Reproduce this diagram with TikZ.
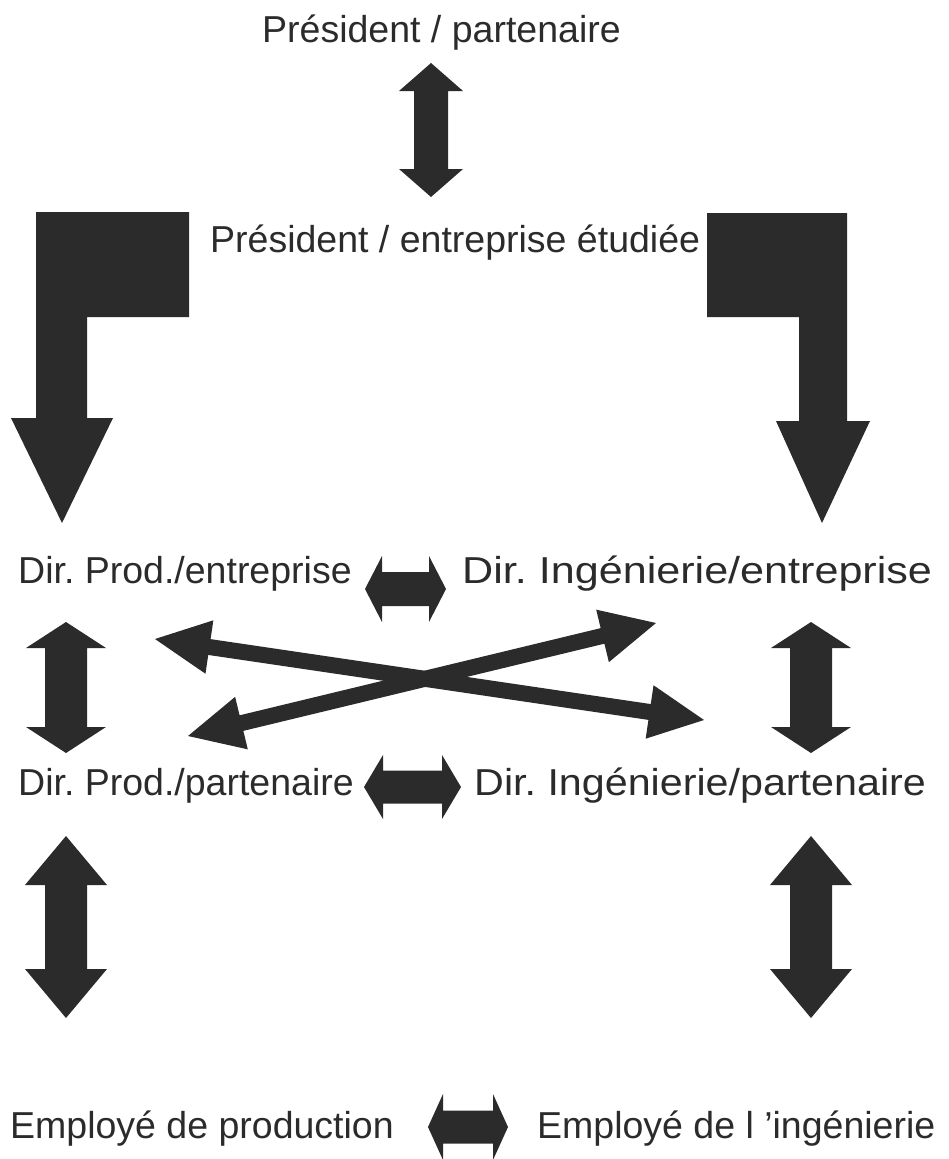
\documentclass[tikz,border=0pt]{standalone}
\usepackage{fontspec}
\setmainfont{Liberation Sans}
\usetikzlibrary{calc}
\definecolor{arrgray}{RGB}{43,43,43}

% block double arrow: tip, tip, head length, head half width, shaft half width
\newcommand{\dblarr}[5]{%
  \coordinate (ha) at ($#1!#3!#2$);
  \coordinate (hb) at ($#2!#3!#1$);
  \fill[arrgray] #1 -- ($(ha)!#4!90:#2$) -- ($(ha)!#5!90:#2$) -- ($(hb)!#5!-90:#1$)
    -- ($(hb)!#4!-90:#1$) -- #2 -- ($(hb)!#4!90:#1$) -- ($(hb)!#5!90:#1$)
    -- ($(ha)!#5!-90:#2$) -- ($(ha)!#4!-90:#2$) -- cycle;}

\begin{document}
\frenchspacing
\begin{tikzpicture}[x=1pt,y=-1pt,
  lbl/.style={anchor=base west,inner sep=0pt,text=arrgray,font=\fontsize{37.5}{40}\selectfont},
  widelbl/.style={lbl,xscale=#1,transform shape}]
  \useasboundingbox (0,0) rectangle (949,1159);

  \node[lbl] (pp) at (262,42) {Président / partenaire};
  \node[lbl] (pe) at (210,252) {Président / entreprise étudiée};
  \node[lbl] (dpe) at (18,583) {Dir. Prod./entreprise};
  \node[widelbl=1.15] (die) at (462,583) {Dir. Ingénierie/entreprise};
  \node[lbl] (dpp) at (18,795) {Dir. Prod./partenaire};
  \node[widelbl=1.10] (dip) at (474,795) {Dir. Ingénierie/partenaire};
  \node[lbl] (ep) at (10,1138) {Employé de production};
  \node[lbl] (ei) at (537,1138) {Employé de l 'ingénierie};

  % president links
  \coordinate (p1) at (431,63);  \coordinate (p2) at (431,197);
  \dblarr{(p1)}{(p2)}{28pt}{32pt}{17pt}
  \fill[arrgray] (36,212) -- (189,212) -- (189,317) -- (87,317) -- (87,418) -- (113,418)
    -- (62,523) -- (11,418) -- (36,418) -- cycle;
  \fill[arrgray] (707,213) -- (847,213) -- (847,421) -- (870,421) -- (822,523) -- (776,421)
    -- (799,421) -- (799,317) -- (707,317) -- cycle;

  % horizontal links
  \coordinate (h1a) at (365,589); \coordinate (h1b) at (446,589);
  \dblarr{(h1a)}{(h1b)}{17pt}{33pt}{17pt}
  \coordinate (h2a) at (364,787); \coordinate (h2b) at (461,787);
  \dblarr{(h2a)}{(h2b)}{19pt}{32pt}{16.5pt}
  \coordinate (h3a) at (428,1127); \coordinate (h3b) at (508,1127);
  \dblarr{(h3a)}{(h3b)}{15pt}{33pt}{16.5pt}

  % vertical links
  \coordinate (v1a) at (66,622);  \coordinate (v1b) at (66,753);
  \dblarr{(v1a)}{(v1b)}{26pt}{40pt}{21pt}
  \coordinate (v2a) at (811,622); \coordinate (v2b) at (811,753);
  \dblarr{(v2a)}{(v2b)}{26pt}{40pt}{21pt}
  \coordinate (v3a) at (66,836);  \coordinate (v3b) at (66,1018);
  \dblarr{(v3a)}{(v3b)}{49pt}{41pt}{21pt}
  \coordinate (v4a) at (811,836); \coordinate (v4b) at (811,1018);
  \dblarr{(v4a)}{(v4b)}{49pt}{41pt}{21pt}

  % crossing links
  \coordinate (xa) at (155,639); \coordinate (xb) at (704,720);
  \dblarr{(xa)}{(xb)}{55pt}{27pt}{8pt}
  \coordinate (ya) at (188,736); \coordinate (yb) at (656,623);
  \dblarr{(ya)}{(yb)}{55pt}{27pt}{8pt}
\end{tikzpicture}
\end{document}
